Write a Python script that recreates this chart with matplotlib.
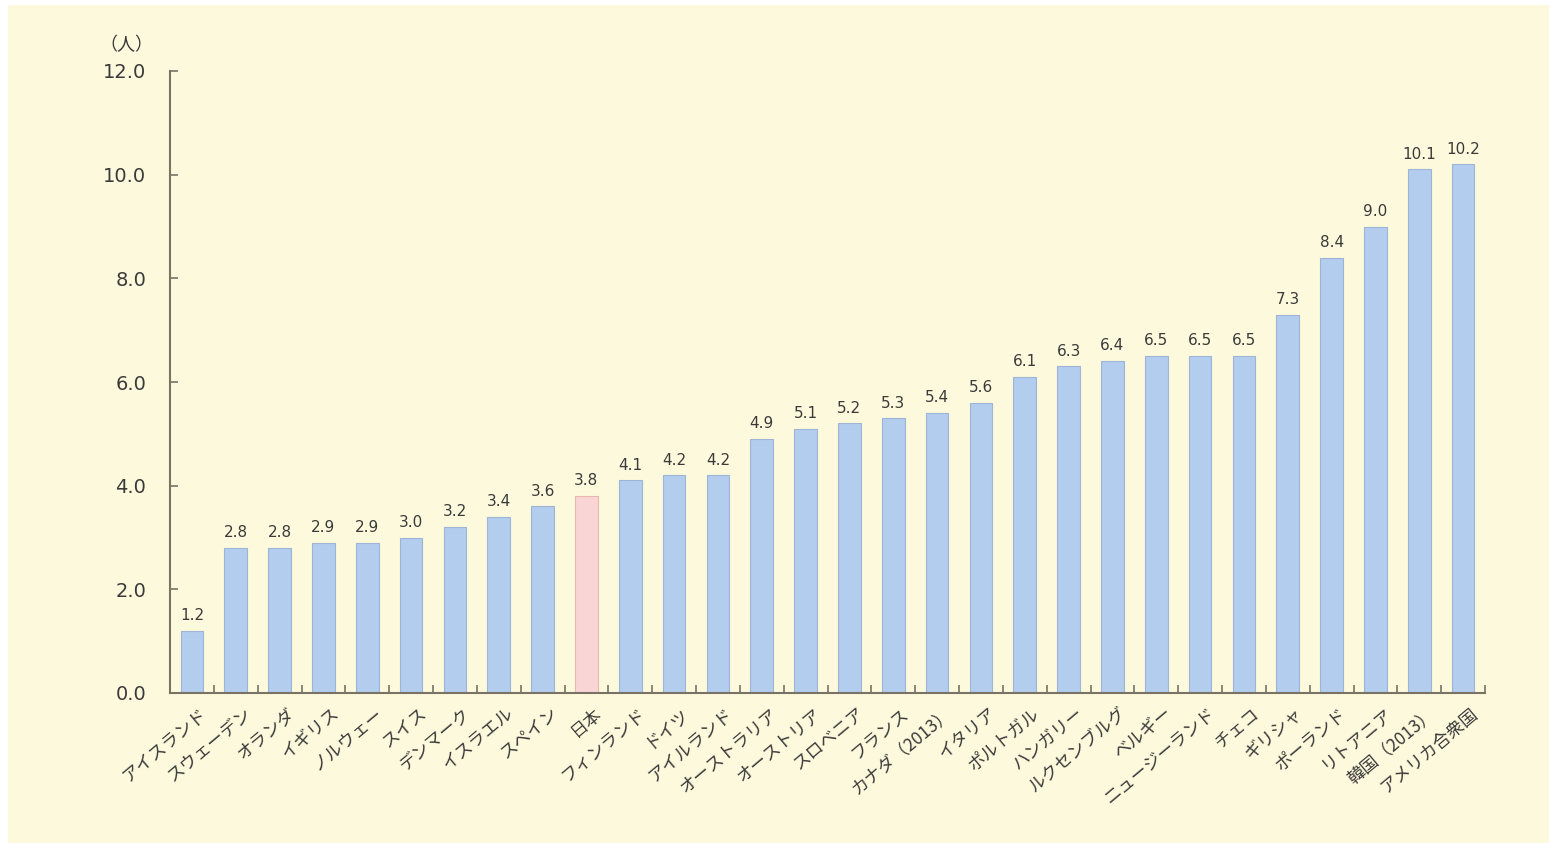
import matplotlib.pyplot as plt
from matplotlib.patches import Rectangle

plt.rcParams['font.family'] = ['Noto Sans CJK JP', 'DejaVu Sans']

countries = ["アイスランド", "スウェーデン", "オランダ", "イギリス", "ノルウェー", "スイス",
             "デンマーク", "イスラエル", "スペイン", "日本", "フィンランド", "ドイツ",
             "アイルランド", "オーストラリア", "オーストリア", "スロベニア", "フランス",
             "カナダ（2013）", "イタリア", "ポルトガル", "ハンガリー", "ルクセンブルグ",
             "ベルギー", "ニュージーランド", "チェコ", "ギリシャ", "ポーランド", "リトアニア",
             "韓国（2013）", "アメリカ合衆国"]
values = [1.2, 2.8, 2.8, 2.9, 2.9, 3.0, 3.2, 3.4, 3.6, 3.8, 4.1, 4.2, 4.2, 4.9, 5.1,
          5.2, 5.3, 5.4, 5.6, 6.1, 6.3, 6.4, 6.5, 6.5, 6.5, 7.3, 8.4, 9.0, 10.1, 10.2]
yticks = [0, 2, 4, 6, 8, 10, 12]

bg = '#FDF9DC'
blue = '#B3CDEF'
pink = '#F9D5D5'
axc = '#7A7264'
txt = '#3A3A3A'

fig = plt.figure(figsize=(15.49, 8.43), dpi=100)
fig.patch.set_facecolor('white')
fig.patches.append(Rectangle((8 / 1549, 0), 1, 1 - 5 / 843, transform=fig.transFigure,
                             facecolor=bg, edgecolor='none', zorder=-10))
ax = fig.add_axes([170 / 1549, 1 - 693 / 843, (1485 - 170) / 1549, (693 - 71) / 843])
ax.set_facecolor('none')

x = range(len(values))
colors = [pink if c == "日本" else blue for c in countries]
edges = ['#E8B8B0' if c == "日本" else '#9DB4D4' for c in countries]
ax.bar(x, values, width=0.52, color=colors, edgecolor=edges, linewidth=0.8)

for i, v in enumerate(values):
    ax.text(i, v + 0.15, f"{v:.1f}", ha='center', va='bottom', fontsize=11,
            color=txt, family='DejaVu Sans')

ax.set_xlim(-0.5, len(values) - 0.5)
ax.set_ylim(0, 12)
ax.set_yticks(yticks)
ax.set_yticklabels([f"{t:.1f}" for t in yticks], fontsize=14, color=txt, family='DejaVu Sans')

ax.set_xticks([i + 0.5 for i in range(-1, len(values))], minor=False)
ax.set_xticklabels([])
ax.tick_params(axis='x', direction='in', length=6, color=axc, width=1.2)
ax.tick_params(axis='y', direction='in', length=6, color=axc, width=1.2, pad=17)

for i, c in enumerate(countries):
    ax.text(i + 0.3, -0.35, c, rotation=40, rotation_mode='anchor', ha='right', va='center',
            fontsize=12.5, color=txt)

for s in ['top', 'right']:
    ax.spines[s].set_visible(False)
for s in ['left', 'bottom']:
    ax.spines[s].set_color(axc)
    ax.spines[s].set_linewidth(1.5)

fig.text(126 / 1549, 1 - 45 / 843, "（人）", ha='center', va='center', fontsize=13, color=txt)

fig.savefig('out.png', dpi=100)
